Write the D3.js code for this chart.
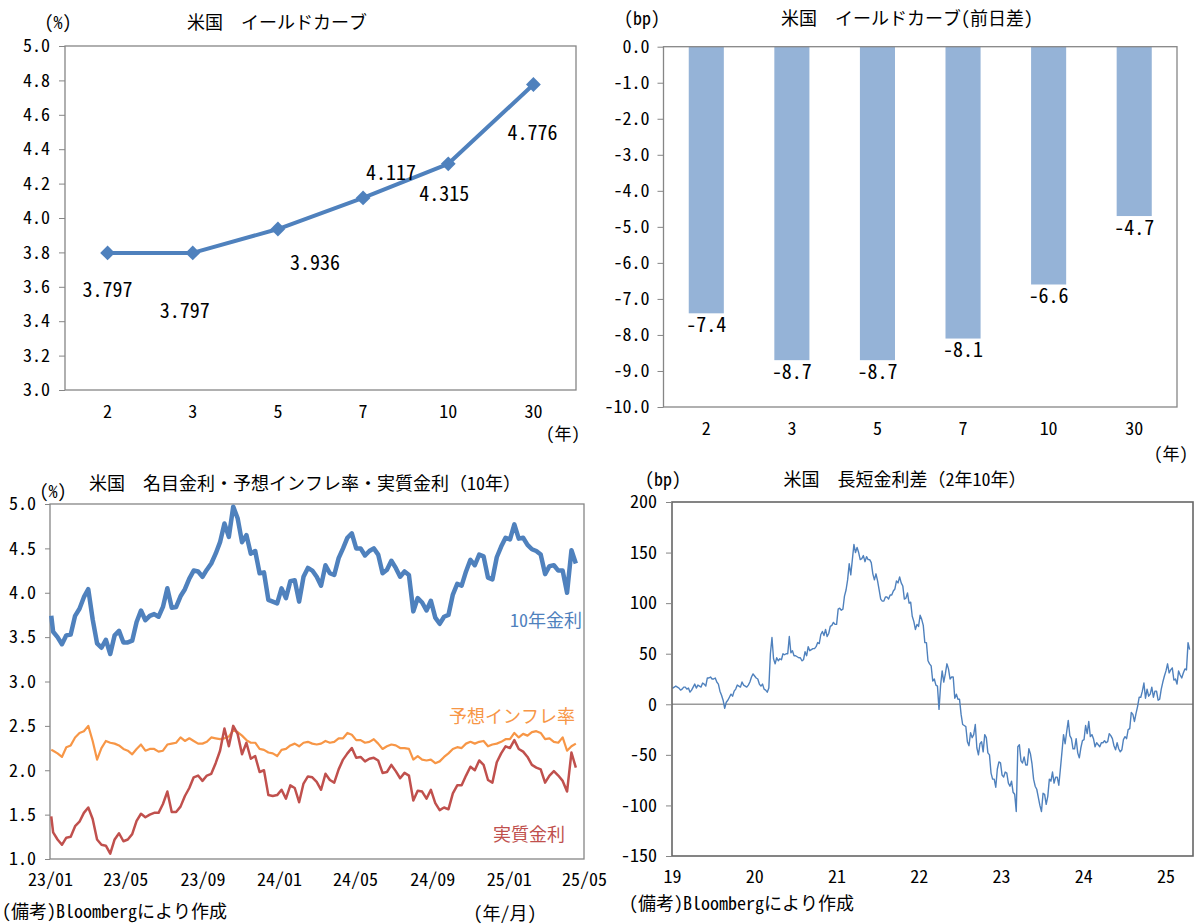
<!DOCTYPE html>
<html><head><meta charset="utf-8">
<script src="https://cdn.jsdelivr.net/npm/d3@7"></script>
<style>
body{margin:0;background:#fff}
svg{display:block}
text{font-family:'Noto Sans Mono CJK JP','Noto Sans CJK JP','Noto Sans',sans-serif;fill:#000}
</style>
</head><body>
<svg id="c" width="1200" height="924"></svg>
<script>
// ---------------- DATA ----------------
const curveTenors = ["2","3","5","7","10","30"];
const curveYields = [3.797,3.797,3.936,4.117,4.315,4.776];
const curveChanges = [-7.4,-8.7,-8.7,-8.1,-6.6,-4.7];
const curveYTicks = [3.0,3.2,3.4,3.6,3.8,4.0,4.2,4.4,4.6,4.8,5.0];
const changeYTicks = [0,-1,-2,-3,-4,-5,-6,-7,-8,-9,-10];

// weekly (first point 2023-01-03, then Fridays 2023-01-06 .. 2025-04-18)
const nominal10y = [3.74,
 3.56,3.50,3.42,3.52, 3.53,3.74,3.82,3.95, 4.04,3.70,3.43,3.38,3.47, 3.31,3.52,3.57,3.44,
 3.44,3.46,3.67,3.80, 3.69,3.74,3.76,3.73,3.84, 4.05,3.83,3.84,3.96, 4.04,4.16,4.25,4.24,
 4.18,4.26,4.33,4.44,4.57, 4.78,4.63,4.97,4.84, 4.57,4.65,4.44,4.47, 4.22,4.23,3.92,3.90,3.88,
 4.05,3.94,4.13,4.14, 3.90,4.18,4.28,4.25, 4.18,4.08,4.31,4.22,4.20, 4.39,4.50,4.62,4.67,
 4.50,4.50,4.42,4.47,4.50, 4.43,4.22,4.26,4.36, 4.28,4.18,4.24,4.20, 3.79,3.94,3.89,3.80,3.91,
 3.72,3.65,3.73,3.75, 3.98,4.10,4.08,4.24, 4.37,4.31,4.43,4.41,4.17, 4.15,4.40,4.52,4.62,
 4.60,4.77,4.61,4.62,4.54, 4.49,4.47,4.43,4.21, 4.30,4.31,4.25,4.25, 4.00,4.48,4.33];
const breakeven10y = [2.23,
 2.22,2.19,2.15,2.26, 2.28,2.37,2.42,2.44, 2.50,2.33,2.12,2.25,2.33, 2.31,2.30,2.28,2.24,
 2.22,2.18,2.24,2.29, 2.22,2.24,2.24,2.21,2.22, 2.29,2.30,2.31,2.37, 2.33,2.36,2.33,2.30,
 2.30,2.32,2.37,2.36,2.35, 2.36,2.38,2.45,2.43, 2.39,2.34,2.31,2.31, 2.24,2.23,2.20,2.19,2.16,
 2.23,2.24,2.28,2.30, 2.27,2.31,2.32,2.30, 2.29,2.30,2.33,2.31,2.32, 2.36,2.36,2.42,2.40,
 2.34,2.34,2.31,2.32,2.35, 2.30,2.24,2.27,2.29, 2.28,2.25,2.25,2.24, 2.12,2.16,2.12,2.11,2.12,
 2.08,2.10,2.15,2.19, 2.24,2.26,2.25,2.30, 2.32,2.30,2.32,2.33,2.27, 2.29,2.30,2.32,2.35,
 2.35,2.42,2.37,2.41,2.39, 2.43,2.44,2.42,2.35, 2.36,2.32,2.31,2.37, 2.22,2.27,2.30];
const real10y = [1.48,
 1.30,1.22,1.16,1.24, 1.25,1.37,1.42,1.52, 1.58,1.45,1.22,1.16,1.15, 1.06,1.22,1.29,1.20,
 1.22,1.28,1.43,1.51, 1.47,1.50,1.52,1.52,1.62, 1.76,1.53,1.53,1.59, 1.71,1.80,1.92,1.94,
 1.88,1.94,1.96,2.08,2.22, 2.47,2.27,2.50,2.41, 2.18,2.31,2.13,2.16, 1.98,2.00,1.72,1.71,1.72,
 1.78,1.68,1.83,1.80, 1.64,1.85,1.93,1.92, 1.87,1.78,1.96,1.89,1.86, 2.01,2.12,2.19,2.25,
 2.14,2.15,2.10,2.13,2.14, 2.11,1.97,1.98,2.06, 1.99,1.91,1.97,1.94, 1.66,1.77,1.76,1.68,1.78,
 1.63,1.55,1.58,1.56, 1.74,1.83,1.83,1.94, 2.04,2.00,2.11,2.06,1.89, 1.86,2.09,2.19,2.27,
 2.25,2.34,2.24,2.21,2.15, 2.06,2.03,2.01,1.86, 1.94,1.99,1.94,1.88, 1.76,2.20,2.03];
const rateYTicks = [1.0,1.5,2.0,2.5,3.0,3.5,4.0,4.5,5.0];
const rateXTicks = ["2023-01-01","2023-05-01","2023-09-01","2024-01-01","2024-05-01","2024-09-01","2025-01-01","2025-05-01"];
const rateXLabels = ["23/01","23/05","23/09","24/01","24/05","24/09","25/01","25/05"];

// 2s10s spread, bp (first point 2019-01-02, then Fridays 2019-01-04 .. 2025-04-18)
const spread2s10s = [16,
 // 2019
 16,17,18,17, 16,14,15,17, 17,15,16,12,14, 17,20,16,19, 18,17,21,20,18, 26,26,27,25,
 25,26,22,20, 13,9,4,-4,2, 4,7,10,8, 13,15,19,18, 17,22,19,18,17, 19,22,27,30,
 // 2020
 28,26,25,20,18, 20,15,14,12, 16,50,66,45, 40,46,43,45, 44,50,49,50,50, 67,51,53,48,
 48,47,46,46,43, 44,52,48,57, 53,54,55,55, 57,61,60,69,72, 68,74,67,70, 77,78,81,79,
 // 2021
 79,94,95,93,94, 107,113,123,139, 128,143,158,150, 155,150,143,144,147, 141,146,143,143,
 140,129,123,129, 122,113,104,102,102, 106,106,104,108, 108,112,114,122,
 120,126,120,117,104, 105,110,100,101, 87,82,74,79,77,
 // 2022
 88,84,78,61, 61,43,40,38, 23,25,19,18, -5,19,33,22,30, 40,35,25,27, 27,6,10,5,
 5,-10,-20,-21,-22, -37,-41,-28,-33, -30,-20,-43,-50,-39, -37,-47,-30,-33,
 -48,-50,-68,-74, -74,-82,-64,-57,-58,
 // 2023
 -70,-72,-67,-68, -78,-81,-76,-87, -89,-106,-42,-40,-56, -58,-52,-60,-60, -44,-49,-59,-74,
 -81,-84,-92,-100,-106, -88,-89,-99,-91, -74,-76,-67,-78, -72,-72,-80,-64,-47,
 -30,-39,-27,-16, -31,-34,-44,-44, -34,-48,-53,-43,-36,
 // 2024
 -35,-21,-29,-17, -32,-30,-34,-42, -38,-40,-42,-38,-38, -36,-38,-37,-29, -31,-34,-41,-45,-38,
 -44,-47,-45,-35, -32,-34,-25,-24, -8,-10,-17,-9,-2, 7,7,13,21, 6,15,8,10,
 17,7,13,13,4, 5,15,22,28,
 // 2025
 33,40,31,34,36, 24,25,20,33, 29,26,31,35, 34,61,54];
const spreadYTicks = [-150,-100,-50,0,50,100,150,200];
const spreadXTicks = ["2019-01-01","2020-01-01","2021-01-01","2022-01-01","2023-01-01","2024-01-01","2025-01-01"];
const spreadXLabels = ["19","20","21","22","23","24","25"];

// ---------------- LAYOUT / STYLE ----------------
const BLUE = "#4F81BD", ORANGE = "#F79646", RED = "#C0504D", BAR = "#95B3D7", BORDER = "#868686";
const FONT = 18, LABEL_FONT = 20;
const curveLabelOffsets = [[0,36],[-8,57],[37,32],[28,-26],[-4,29],[-1,47]];

const svg = d3.select("#c");
svg.append("rect").attr("width",1200).attr("height",924).attr("fill","#fff");

function txt(x, y, s, opts = {}) {
  return svg.append("text").attr("x", x).attr("y", y)
    .attr("text-anchor", opts.anchor || "middle")
    .attr("dominant-baseline", "central")
    .attr("font-size", opts.size || FONT)
    .style("fill", opts.color || "#000")
    .text(s);
}
function styleAxis(g) {
  g.attr("font-family", null).attr("font-size", null);
  g.select(".domain").remove();
  g.selectAll(".tick line").attr("stroke", BORDER);
  g.selectAll(".tick text").attr("font-size", FONT).style("fill", "#000");
}
function yAxis(scale, ticks, fmt, x, size, pad) {
  const g = svg.append("g").attr("transform", `translate(${x},0)`)
    .call(d3.axisLeft(scale).tickValues(ticks).tickFormat(fmt).tickSize(size).tickPadding(pad));
  styleAxis(g);
  return g;
}
function xAxis(scale, ticks, fmt, y, pad) {
  const g = svg.append("g").attr("transform", `translate(0,${y})`)
    .call(d3.axisBottom(scale).tickValues(ticks).tickFormat(fmt).tickSize(0).tickPadding(pad));
  styleAxis(g);
  return g;
}
function frame(x0, y0, x1, y1, color, w) {
  svg.append("rect").attr("x", x0).attr("y", y0).attr("width", x1 - x0).attr("height", y1 - y0)
    .attr("fill", "none").attr("stroke", color || BORDER).attr("stroke-width", w || 1.3);
}
const f1 = v => v.toFixed(1);
const fi = v => String(v);
const parse = s => new Date(s + "T00:00:00Z");

// ---------------- PANEL 1: yield curve ----------------
{
  const x = d3.scaleBand().domain(curveTenors).range([65, 576]);
  const y = d3.scaleLinear().domain([3, 5]).range([390, 46]);
  const cx = d => x(d) + x.bandwidth() / 2;
  frame(65, 46, 576, 390);
  yAxis(y, curveYTicks, f1, 65, 6, 9);
  svg.append("g").selectAll("text").data(curveTenors).join("text")
    .attr("x", d => cx(d)).attr("y", 410).attr("text-anchor", "middle")
    .attr("dominant-baseline", "central").attr("font-size", FONT).text(d => d);
  const pts = curveTenors.map((t, i) => [cx(t), y(curveYields[i])]);
  svg.append("path").datum(pts).attr("d", d3.line()).attr("fill", "none")
    .attr("stroke", BLUE).attr("stroke-width", 4).attr("stroke-linejoin", "round");
  svg.append("g").selectAll("path").data(pts).join("path")
    .attr("transform", d => `translate(${d[0]},${d[1]}) rotate(45)`)
    .attr("d", d3.symbol(d3.symbolSquare, 110)).attr("fill", BLUE);
  svg.append("g").selectAll("text").data(curveYields).join("text")
    .attr("x", (d, i) => pts[i][0] + curveLabelOffsets[i][0])
    .attr("y", (d, i) => pts[i][1] + curveLabelOffsets[i][1])
    .attr("text-anchor", "middle").attr("dominant-baseline", "central")
    .attr("font-size", LABEL_FONT).text(d => d.toFixed(3));
  txt(277, 21, "米国　イールドカーブ");
  txt(58, 21, "(%)");
  txt(563, 432, "(年)", { size: 17 });
}

// ---------------- PANEL 2: daily change ----------------
{
  const x = d3.scaleBand().domain(curveTenors).range([663.5, 1177]);
  const y = d3.scaleLinear().domain([-10, 0]).range([407, 46.7]);
  const bw = x.bandwidth() * 0.41;
  svg.append("g").selectAll("rect").data(curveChanges).join("rect")
    .attr("x", (d, i) => x(curveTenors[i]) + (x.bandwidth() - bw) / 2)
    .attr("width", bw)
    .attr("y", y(0)).attr("height", d => y(d) - y(0))
    .attr("fill", BAR);
  frame(663.5, 46.7, 1177, 407);
  yAxis(y, changeYTicks, f1, 663.5, 6, 8);
  svg.append("g").selectAll("text").data(curveTenors).join("text")
    .attr("x", d => x(d) + x.bandwidth() / 2).attr("y", 427).attr("text-anchor", "middle")
    .attr("dominant-baseline", "central").attr("font-size", FONT).text(d => d);
  svg.append("g").selectAll("text").data(curveChanges).join("text")
    .attr("x", (d, i) => x(curveTenors[i]) + x.bandwidth() / 2)
    .attr("y", d => y(d) + 10)
    .attr("text-anchor", "middle").attr("dominant-baseline", "central")
    .attr("font-size", LABEL_FONT).text(d => d.toFixed(1));
  txt(907, 17, "米国　イールドカーブ(前日差)");
  txt(642, 17, "(bp)");
  txt(1171, 452, "(年)", { size: 17 });
}

// ---------------- PANEL 3: nominal / breakeven / real ----------------
{
  const dates = [parse("2023-01-03"), ...d3.utcFriday.range(parse("2023-01-06"), parse("2025-04-19"))];
  const x = d3.scaleUtc().domain([parse("2023-01-01"), parse("2025-05-01")]).range([50, 584]);
  const y = d3.scaleLinear().domain([1, 5]).range([859, 504]);
  frame(50, 504, 584, 859);
  yAxis(y, rateYTicks, f1, 50, 5, 9);
  xAxis(x, rateXTicks.map(parse), (d, i) => rateXLabels[i], 859, 14);
  const line = d3.line().x(d => x(d[0])).y(d => y(d[1]));
  const mk = arr => arr.slice(0, Math.min(arr.length, dates.length)).map((v, i) => [dates[i], v]);
  svg.append("path").datum(mk(nominal10y)).attr("d", line).attr("fill", "none")
    .attr("stroke", BLUE).attr("stroke-width", 4.5).attr("stroke-linejoin", "round");
  svg.append("path").datum(mk(breakeven10y)).attr("d", line).attr("fill", "none")
    .attr("stroke", ORANGE).attr("stroke-width", 2.2).attr("stroke-linejoin", "round");
  svg.append("path").datum(mk(real10y)).attr("d", line).attr("fill", "none")
    .attr("stroke", RED).attr("stroke-width", 2.5).attr("stroke-linejoin", "round");
  txt(546, 619, "10年金利", { color: BLUE });
  txt(512, 715, "予想インフレ率", { color: ORANGE });
  txt(529, 833, "実質金利", { color: RED });
  txt(305, 482, "米国　名目金利・予想インフレ率・実質金利（10年）");
  txt(53, 490, "(%)");
  txt(505, 912, "(年/月)");
  txt(2, 910, "(備考)Bloombergにより作成", { anchor: "start" });
}

// ---------------- PANEL 4: 2s10s ----------------
{
  const dates = [parse("2019-01-02"), ...d3.utcFriday.range(parse("2019-01-04"), parse("2025-04-19"))];
  const x = d3.scaleUtc().domain([parse("2019-01-01"), parse("2025-05-03")]).range([672, 1193]);
  const y = d3.scaleLinear().domain([-150, 200]).range([856, 502]);
  svg.append("line").attr("x1", 672).attr("x2", 1193).attr("y1", y(0)).attr("y2", y(0))
    .attr("stroke", "#9a9a9a").attr("stroke-width", 1.5);
  const data = spread2s10s.slice(0, Math.min(spread2s10s.length, dates.length)).map((v, i) => [dates[i], v]);
  svg.append("path").datum(data)
    .attr("d", d3.line().x(d => x(d[0])).y(d => y(d[1])))
    .attr("fill", "none").attr("stroke", BLUE).attr("stroke-width", 1.4).attr("stroke-linejoin", "round");
  frame(672, 502, 1193, 856, "#666", 1.6);
  yAxis(y, spreadYTicks, fi, 672, 6, 9);
  xAxis(x, spreadXTicks.map(parse), (d, i) => spreadXLabels[i], 856, 14);
  txt(905, 478, "米国　長短金利差（2年10年）");
  txt(663, 478, "(bp)");
  txt(629, 902, "(備考)Bloombergにより作成", { anchor: "start" });
}
</script>
</body></html>
